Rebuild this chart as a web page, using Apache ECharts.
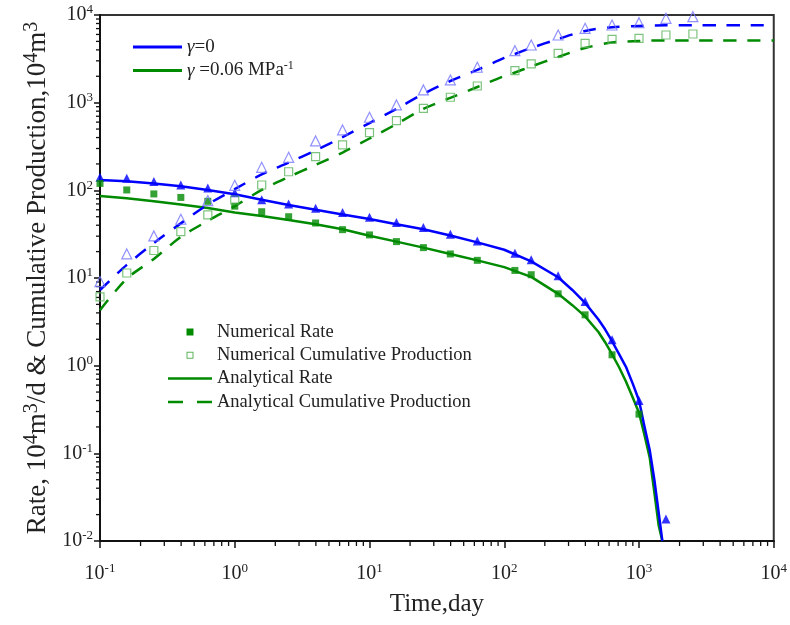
<!DOCTYPE html>
<html><head><meta charset="utf-8">
<script src="https://cdn.jsdelivr.net/npm/echarts@6/dist/echarts.min.js"></script>
<style>html,body{margin:0;padding:0;background:#fff}#c{width:790px;height:625px}</style>
</head><body><div id="c"></div>
<script>
const FONT = '"Liberation Serif","Times New Roman",serif';
const BLUE = '#0000ff', GREEN = '#008a00', LBLUE = '#7474ff', LGREEN = '#5cb45c';

// numerical (marker) times, days
const tNum = [0.1,0.158,0.251,0.398,0.631,1,1.585,2.512,3.981,6.31,10,15.85,25.12,39.81,63.1,120,158.5,251.2,398.1,631,1000,1585,2512];
// numerical rate, gamma=0 (filled triangles), up to 1585 d
const numRateG0 = [141,137,126,115,106,94,78,70,62.5,55.7,49.4,42.9,37.6,31.6,26.5,19.2,16.1,10.6,5.4,1.97,0.40,0.0178];
// numerical rate, gamma=0.06 (filled squares), up to 1000 d
const numRateG6 = [120,101,91,83,75,66,57,50,42.4,35.6,31,26,22.2,18.8,15.9,12.2,10.9,6.6,3.8,1.33,0.28];
// numerical cumulative, gamma=0 (hollow triangles)
const numCumG0 = [9.1,18.8,30.2,46.8,76.4,114,183,238,366,489,682,942,1396,1815,2535,3917,4549,5915,7050,7690,8170,9170,9570];
// numerical cumulative, gamma=0.06 (hollow squares)
const numCumG6 = [6.1,11.4,20.6,33.8,52.5,77.6,115,163,242,330,455,624,863,1153,1549,2317,2763,3656,4753,5280,5420,5915,6070];

// analytical rate
const tRate = [0.1,0.158,0.251,0.398,0.631,1,1.585,2.512,3.981,6.31,10,15.85,25.12,39.81,63.1,100,158.5,251.2,320,398.1,500,560,631,710,800,900,1000,1100,1200,1300,1400,1490];
const anaRateG0 = [131,127,120,111,101,90,78,68,60,53,47,41,36,30.5,25.5,21,15.5,10.2,7.3,5.2,3.36,2.6,1.9,1.36,0.97,0.62,0.40,0.2,0.11,0.05,0.021,0.01];
const anaRateG6 = [86,81,75,69,63,56,51,46,41,36,30.4,26,22.2,18.8,15.9,13.3,10.3,6.6,4.9,3.65,2.42,1.85,1.35,0.965,0.66,0.43,0.29,0.16,0.09,0.036,0.015,0.01];

// analytical cumulative
const tCum = [0.1,0.158,0.251,0.398,0.631,1,1.585,2.512,3.981,6.31,10,15.85,25.12,39.81,63.1,100,120,158.5,251.2,398.1,631,1000,1585,2512,4000,6310,10000];
const anaCumG0 = [7.3,14.1,25,42,69,103,152,207,285,405,585,850,1260,1766,2363,3236,3590,4207,5321,6580,7240,7490,7640,7650,7650,7650,7650];
const anaCumG6 = [4.3,9.8,16.5,29.4,44.8,66,101,142,195,270,390,570,850,1132,1510,2014,2207,2587,3320,4208,4850,5060,5130,5120,5120,5120,5120];

// axis ranges and minor tick mantissas
const xMin = 0.1, xMax = 10000, yMin = 0.01, yMax = 10000;
const mantissas = [2,3,4,5,6,7,8,9];
const xDecades = [0.1,1,10,100,1000];
const yDecades = [0.01,0.1,1,10,100,1000];
const xMinor = [], yMinor = [];
xDecades.forEach(d => mantissas.forEach(m => xMinor.push([+(m*d).toPrecision(3), yMin])));
yDecades.forEach(d => mantissas.forEach(m => yMinor.push([xMin, +(m*d).toPrecision(3)])));

const zip = (xs, ys) => ys.map((y, i) => [xs[i], y]);

const richTick = {
  b: {fontSize: 20, fontFamily: FONT, color: '#222'},
  s: {fontSize: 13, fontFamily: FONT, color: '#222', padding: [0, 0, 10, 0]}
};
const tickFmt = v => '{b|10}{s|' + Math.round(Math.log10(v)) + '}';

const chart = echarts.init(document.getElementById('c'), null, {renderer: 'canvas'});
chart.setOption({
  animation: false,
  backgroundColor: '#fff',
  grid: {left: 100, right: 15, top: 15, bottom: 84, show: true, borderColor: '#333', borderWidth: 2, backgroundColor: 'transparent'},
  xAxis: {
    type: 'log', logBase: 10, min: xMin, max: xMax, splitNumber: 5,
    name: 'Time,day', nameLocation: 'middle', nameGap: 51,
    nameTextStyle: {fontFamily: FONT, fontSize: 25, color: '#222'},
    axisLine: {show: true, lineStyle: {color: '#111', width: 2}},
    axisTick: {show: true, length: 7, lineStyle: {color: '#111', width: 1.5}},
    axisLabel: {margin: 21, formatter: tickFmt, rich: richTick},
    splitLine: {show: false}
  },
  yAxis: {
    type: 'log', logBase: 10, min: yMin, max: yMax, splitNumber: 6,
    name: '{t|Rate, 10}{s|4}{t|m}{s|3}{t|/d & Cumulative Production,10}{s|4}{t|m}{s|3}',
    nameLocation: 'middle', nameGap: 46, nameRotate: 90,
    nameTextStyle: {rich: {
      t: {fontFamily: FONT, fontSize: 27, color: '#222'},
      s: {fontFamily: FONT, fontSize: 20, color: '#222', padding: [0, 0, 12, 0]}
    }},
    axisLine: {show: true, lineStyle: {color: '#111', width: 2}},
    axisTick: {show: true, length: 6, lineStyle: {color: '#111', width: 1.5}},
    axisLabel: {margin: 7, formatter: tickFmt, rich: richTick},
    splitLine: {show: false}
  },
  legend: [{
    orient: 'vertical', left: 133, top: 37, padding: 0, itemWidth: 49, itemHeight: 3, itemGap: 3,
    selectedMode: false, itemStyle: {borderWidth: 0},
    data: [{name: 'g0', icon: 'rect'}, {name: 'g6', icon: 'rect'}],
    formatter: n => n === 'g0' ? '{i|γ}{n|=0}' : '{i|γ}{n| =0.06 MPa}{s|-1}',
    textStyle: {fontFamily: FONT, fontSize: 19, color: '#222', lineHeight: 20, rich: {
      i: {fontFamily: FONT, fontStyle: 'italic', fontSize: 19, color: '#222'},
      n: {fontFamily: FONT, fontSize: 19, color: '#222'},
      s: {fontFamily: FONT, fontSize: 12, color: '#222', padding: [0, 0, 9, 0]}
    }}
  }, {
    orient: 'vertical', left: 168, top: 322, padding: 0, itemWidth: 44, itemHeight: 7, itemGap: 3.3,
    selectedMode: false, itemStyle: {borderWidth: 0},
    data: [
      {name: 'Numerical Rate', icon: 'path://M0,0H6V6H0Z'},
      {name: 'Numerical Cumulative Production', icon: 'path://M0,0H7V7H0ZM1,1V6H6V1Z'},
      {name: 'Analytical Rate', icon: 'path://M0,0H44V2.5H0Z'},
      {name: 'Analytical Cumulative Production', icon: 'path://M0,0H15V2.5H0ZM29,0H44V2.5H29Z'}
    ],
    textStyle: {fontFamily: FONT, fontSize: 18.5, color: '#222', lineHeight: 20}
  }],
  series: [
    // legend-only entries
    {name: 'g0', type: 'line', data: [], color: BLUE},
    {name: 'g6', type: 'line', data: [], color: GREEN},
    {name: 'Numerical Rate', type: 'line', data: [], color: GREEN},
    {name: 'Numerical Cumulative Production', type: 'line', data: [], color: LGREEN},
    {name: 'Analytical Rate', type: 'line', data: [], color: GREEN},
    {name: 'Analytical Cumulative Production', type: 'line', data: [], color: GREEN},
    // minor ticks
    {type: 'custom', clip: false, silent: true, data: xMinor, encode: {x: 0, y: 1},
      renderItem: (p, api) => { const c = api.coord([api.value(0), api.value(1)]);
        return {type: 'line', shape: {x1: c[0], y1: c[1], x2: c[0], y2: c[1] + 5}, style: {stroke: '#111', lineWidth: 1.3}}; }},
    {type: 'custom', clip: false, silent: true, data: yMinor, encode: {x: 0, y: 1},
      renderItem: (p, api) => { const c = api.coord([api.value(0), api.value(1)]);
        return {type: 'line', shape: {x1: c[0], y1: c[1], x2: c[0] - 4, y2: c[1]}, style: {stroke: '#111', lineWidth: 1.3}}; }},
    // analytical lines
    {name: 'aRate0', type: 'line', data: zip(tRate, anaRateG0), showSymbol: false, smooth: false,
      lineStyle: {color: BLUE, width: 2.5}, z: 3},
    {name: 'aRate6', type: 'line', data: zip(tRate, anaRateG6), showSymbol: false, smooth: false,
      lineStyle: {color: GREEN, width: 2.5}, z: 2},
    {name: 'aCum0', type: 'line', data: zip(tCum, anaCumG0), showSymbol: false, smooth: 0.3,
      lineStyle: {color: BLUE, width: 2.5, type: [13, 11]}, z: 3},
    {name: 'aCum6', type: 'line', data: zip(tCum, anaCumG6), showSymbol: false, smooth: 0.3,
      lineStyle: {color: GREEN, width: 2.5, type: [13, 11]}, z: 2},
    // numerical markers
    {name: 'nRate0', type: 'scatter', data: zip(tNum, numRateG0), symbol: 'triangle', symbolSize: 9,
      itemStyle: {color: BLUE}, z: 5},
    {name: 'nRate6', type: 'scatter', data: zip(tNum, numRateG6), symbol: 'rect', symbolSize: 7,
      itemStyle: {color: GREEN}, z: 5},
    {name: 'nCum0', type: 'scatter', data: zip(tNum, numCumG0), symbol: 'triangle', symbolSize: 10,
      itemStyle: {color: 'transparent', borderColor: LBLUE, borderWidth: 1.2}, z: 5},
    {name: 'nCum6', type: 'scatter', data: zip(tNum, numCumG6), symbol: 'rect', symbolSize: 8,
      itemStyle: {color: 'transparent', borderColor: LGREEN, borderWidth: 1.2}, z: 5}
  ]
});
</script></body></html>
